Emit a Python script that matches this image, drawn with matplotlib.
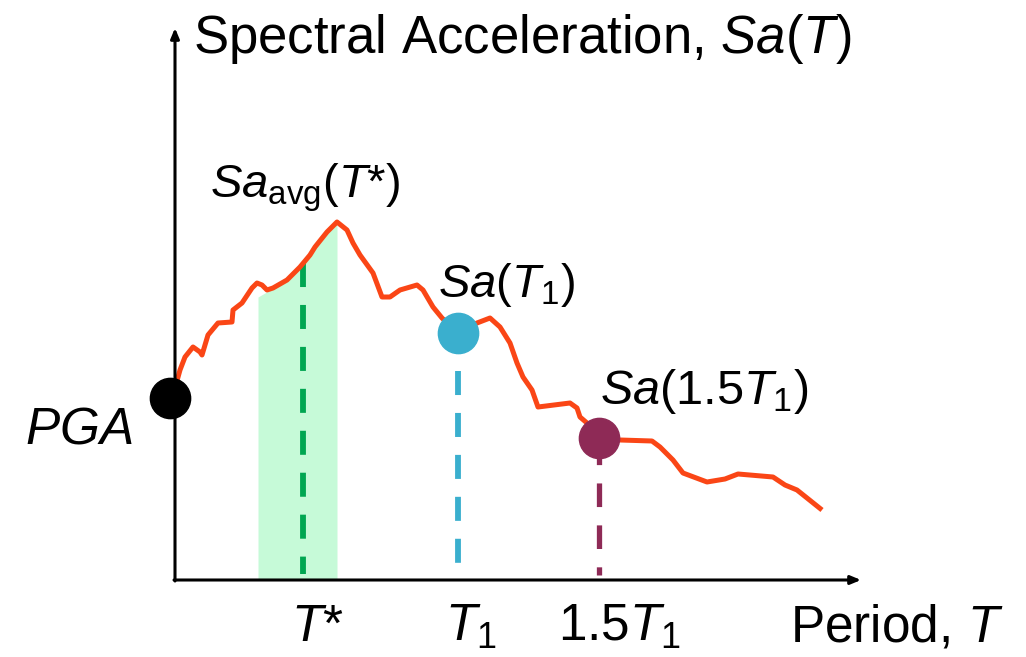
import matplotlib
matplotlib.use("Agg")
import matplotlib.pyplot as plt
import numpy as np

plt.rcParams['font.family'] = ['Liberation Sans', 'DejaVu Sans']
plt.rcParams['mathtext.fontset'] = 'custom'
plt.rcParams['mathtext.rm'] = 'Liberation Sans'
plt.rcParams['mathtext.it'] = 'Liberation Sans:italic'
plt.rcParams['lines.scale_dashes'] = False

# Schematic spectrum (period T, spectral acceleration Sa) in arbitrary units
period = [0.00, 0.05, 0.10, 0.18, 0.25, 0.27, 0.33, 0.43, 0.57, 0.58, 0.67, 0.77,
          0.82, 0.87, 0.92, 0.98, 1.12, 1.25, 1.35, 1.40, 1.52, 1.62, 1.72, 1.78,
          1.85, 1.98, 2.07, 2.15, 2.25, 2.42, 2.48, 2.58, 2.67, 2.83, 3.02, 3.15,
          3.25, 3.35, 3.42, 3.48, 3.57, 3.63, 3.95, 4.02, 4.05, 4.12, 4.23, 4.45,
          4.77, 4.85, 4.98, 5.08, 5.32, 5.50, 5.63, 5.98, 6.10, 6.22, 6.47]
sa = [1.92, 2.10, 2.23, 2.33, 2.28, 2.25, 2.45, 2.57, 2.58, 2.70, 2.77, 2.92,
      2.97, 2.95, 2.90, 2.92, 3.00, 3.13, 3.25, 3.33, 3.48, 3.58, 3.50, 3.37,
      3.25, 3.07, 2.83, 2.83, 2.90, 2.95, 2.90, 2.73, 2.62, 2.47, 2.57, 2.62,
      2.53, 2.37, 2.17, 2.03, 1.90, 1.73, 1.77, 1.72, 1.63, 1.57, 1.42, 1.40,
      1.39, 1.33, 1.20, 1.07, 0.98, 1.01, 1.06, 1.03, 0.95, 0.90, 0.70]

# averaging band around T*
band_T = [0.83, 0.95, 0.98, 1.12, 1.25, 1.35, 1.40, 1.52, 1.62]
band_top = [2.83, 2.90, 2.92, 3.00, 3.13, 3.25, 3.33, 3.48, 3.58]

# key points
pga_pt = (-0.05, 1.82)
t1_pt = (2.83, 2.47)
t15_pt = (4.24, 1.42)
tstar_T, tstar_sa = 1.28, 3.17

c_curve = '#FA4616'
c_band = '#C6FAD8'
c_green = '#00A651'
c_blue = '#3AAFCE'
c_purple = '#8E2A56'

fig = plt.figure(figsize=(10.26, 6.57), dpi=100)
ax = fig.add_axes([0, 0, 1, 1])
ax.set_xlim(-1.75, 8.51)
ax.set_ylim(-0.77, 5.80)
ax.axis('off')

# band
ax.fill_between(band_T, 0, band_top, color=c_band, lw=0, zorder=1)

# vertical dashed guides
ax.plot([tstar_T, tstar_T], [tstar_sa, 0.06], color=c_green, lw=4.2,
        dashes=(17.3, 12.9), zorder=2, dash_capstyle='butt')
ax.plot([t1_pt[0], t1_pt[0]], [2.09, 0.17], color=c_blue, lw=4.2,
        dashes=(17.3, 12.9), zorder=2, dash_capstyle='butt')
ax.plot([t15_pt[0], t15_pt[0]], [1.39, 0.05], color=c_purple, lw=3.8,
        dashes=(17.0, 13.2), zorder=2, dash_capstyle='butt')

# spectrum curve
ax.plot(period, sa, color=c_curve, lw=3.6, zorder=3, solid_joinstyle='round',
        solid_capstyle='butt')

# axes with arrows
ax.annotate('', xy=(0, 5.52), xytext=(0, -0.01),
            arrowprops=dict(arrowstyle='-|>,head_length=0.6,head_width=0.25',
                            color='black', lw=2.2, shrinkA=0, shrinkB=0), zorder=4)
ax.annotate('', xy=(6.86, 0), xytext=(-0.01, 0),
            arrowprops=dict(arrowstyle='-|>,head_length=0.6,head_width=0.25',
                            color='black', lw=2.2, shrinkA=0, shrinkB=0), zorder=4)

# markers
ax.plot(*pga_pt, 'o', color='black', ms=29, zorder=5)
ax.plot(*t1_pt, 'o', color=c_blue, ms=29, zorder=5)
ax.plot(*t15_pt, 'o', color=c_purple, ms=29, zorder=5)

fs = 37
fs_lab = 34
ax.text(0.18, 5.27, 'Spectral Acceleration, $\\mathit{Sa}$($\\mathit{T}$)', fontsize=38,
        ha='left', va='baseline')
ax.text(0.35, 3.83, '$\\mathit{Sa}_{\\mathrm{avg}}$($\\mathit{T}$*)', fontsize=fs_lab,
        ha='left', va='baseline')
ax.text(2.63, 2.83, '$\\mathit{Sa}$($\\mathit{T}_{1}$)', fontsize=fs_lab,
        ha='left', va='baseline')
ax.text(4.25, 1.76, '$\\mathit{Sa}$(1.5$\\mathit{T}_{1}$)', fontsize=35,
        ha='left', va='baseline')
ax.text(-1.50, 1.37, '$\\mathit{PGA}$', fontsize=fs, ha='left', va='baseline')
ax.text(1.16, -0.61, '$\\mathit{T}$*', fontsize=fs, ha='left', va='baseline')
ax.text(2.70, -0.61, '$\\mathit{T}_{1}$', fontsize=fs, ha='left', va='baseline')
ax.text(3.83, -0.61, '1.5$\\mathit{T}_{1}$', fontsize=fs, ha='left', va='baseline')
ax.text(6.15, -0.61, 'Period, $\\mathit{T}$', fontsize=fs, ha='left', va='baseline')

fig.savefig('out.png', dpi=100)
